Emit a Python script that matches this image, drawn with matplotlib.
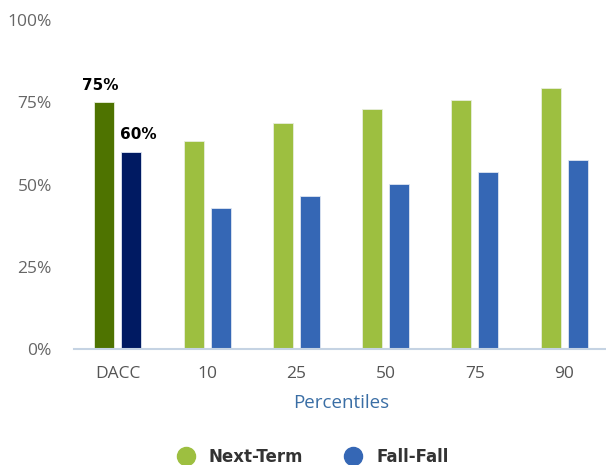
import matplotlib
matplotlib.use("Agg")
import matplotlib.pyplot as plt
from matplotlib.lines import Line2D
import numpy as np

plt.rcParams['font.family'] = ['Open Sans', 'DejaVu Sans']

categories = ['DACC', '10', '25', '50', '75', '90']
next_term = [75, 63.2, 68.8, 72.9, 75.8, 79.4]
fall_fall = [60, 42.8, 46.5, 50.2, 53.9, 57.5]
y_ticks = [0, 25, 50, 75, 100]

green = '#9DBF40'
blue = '#3567B5'
dacc_green = '#4E7300'
dacc_blue = '#001A62'

fig = plt.figure(figsize=(6.06, 4.65), dpi=100)
ax = fig.add_axes([74 / 606, 1 - 349 / 465, 534 / 606, 329 / 465])

x = np.arange(len(categories))
w = 0.224
off = 0.151
g_colors = [dacc_green] + [green] * (len(categories) - 1)
b_colors = [dacc_blue] + [blue] * (len(categories) - 1)
ax.bar(x - off, next_term, w, color=g_colors, edgecolor='#e8eedd', linewidth=0.6)
ax.bar(x + off, fall_fall, w, color=b_colors, edgecolor='#dfe6f2', linewidth=0.6)

# value labels only on the DACC bars
ax.annotate('%d%%' % next_term[0], (x[0] - off, next_term[0]), xytext=(-3, 12),
            textcoords='offset points', ha='center', va='center',
            fontsize=11, fontweight='bold', color='black', family='DejaVu Sans')
ax.annotate('%d%%' % fall_fall[0], (x[0] + off, fall_fall[0]), xytext=(5, 12),
            textcoords='offset points', ha='center', va='center',
            fontsize=11, fontweight='bold', color='black', family='DejaVu Sans')

ax.set_xlim(-0.49, 5.49)
ax.set_ylim(0, 100)
ax.set_yticks(y_ticks)
ax.set_yticklabels(['%d%%' % v for v in y_ticks])
ax.set_xticks(x)
ax.set_xticklabels(categories)
ax.tick_params(axis='y', length=0, pad=16, labelsize=12.5, labelcolor='#666666')
ax.tick_params(axis='x', length=0, pad=12, labelsize=12.5, labelcolor='#555555')

for s in ['top', 'right', 'left']:
    ax.spines[s].set_visible(False)
ax.spines['bottom'].set_color('#C5D3E3')
ax.spines['bottom'].set_linewidth(1.5)

ax.set_xlabel('Percentiles', fontsize=13.5, color='#3A6EA5', labelpad=9)

handles = [
    Line2D([], [], marker='o', linestyle='', markersize=13, color=green, label='Next-Term'),
    Line2D([], [], marker='o', linestyle='', markersize=13, color=blue, label='Fall-Fall'),
]
leg = fig.legend(handles=handles, loc='center', bbox_to_anchor=(0.51, 0.017), ncol=2,
                 frameon=False, handletextpad=0.4, columnspacing=2.0,
                 prop={'size': 12, 'weight': 'bold', 'family': 'DejaVu Sans'})
for t in leg.get_texts():
    t.set_color('#333333')

fig.savefig('out.png', dpi=100)
